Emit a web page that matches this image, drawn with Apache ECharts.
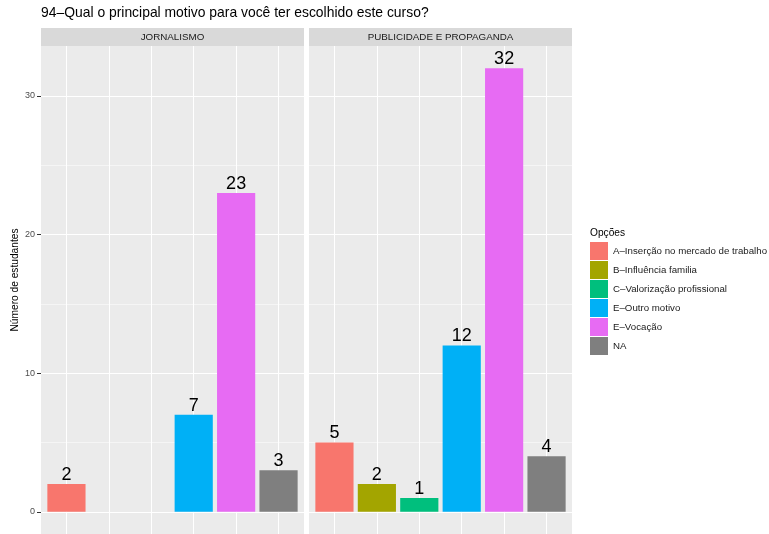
<!DOCTYPE html>
<html>
<head>
<meta charset="utf-8">
<script src="https://cdn.jsdelivr.net/npm/echarts@6/dist/echarts.min.js"></script>
<style>html,body{margin:0;padding:0;background:#fff}#c{width:769px;height:534px}</style>
</head>
<body>
<div id="c"></div>
<script>
const chartTitle = '94–Qual o principal motivo para você ter escolhido este curso?';
const categories = ['A–Inserção no mercado de trabalho', 'B–Influência familia', 'C–Valorização profissional', 'E–Outro motivo', 'E–Vocação', 'NA'];
const catPositions = [1, 2, 3, 4, 5, 6];
const panels = ['JORNALISMO', 'PUBLICIDADE E PROPAGANDA'];
const jornalismo = [2, null, null, 7, 23, 3];
const publicidade = [5, 2, 1, 12, 32, 4];
const panelValues = [jornalismo, publicidade];
const yTicks = [0, 10, 20, 30];
const yMinor = [5, 15, 25];
const yTitle = 'Número de estudantes';
const legendTitle = 'Opções';
const colors = ['#F8766D', '#A3A500', '#00BF7D', '#00B0F6', '#E76BF3', '#7F7F7F'];

const FONT = '"Liberation Sans", Arial, sans-serif';
const panelLeft = [41, 309];
const panelWidth = 263;
const panelTop = 46;
const panelHeight = 490;

const grids = panels.map((p, i) => ({
  left: panelLeft[i], top: panelTop, width: panelWidth, height: panelHeight,
  show: true, backgroundColor: '#EBEBEB', borderWidth: 0, containLabel: false
}));

const xAxes = panels.map((p, i) => ({
  type: 'value', gridIndex: i, min: 0.4, max: 6.6,
  axisLine: {show: false},
  axisTick: {show: false, customValues: catPositions},
  axisLabel: {show: false, customValues: catPositions},
  splitLine: {show: true, lineStyle: {color: '#FFFFFF', width: 1}}
}));

const yAxes = panels.map((p, i) => ({
  type: 'value', gridIndex: i, min: -1.6, max: 33.6,
  axisLine: {show: false},
  axisTick: {show: i === 0, customValues: yTicks, length: 4, lineStyle: {color: '#333333', width: 1}},
  axisLabel: {show: i === 0, customValues: yTicks, margin: 6, fontSize: 9, color: '#4D4D4D', fontFamily: FONT},
  splitLine: {show: true, lineStyle: {color: '#FFFFFF', width: 1}}
}));

const series = [];
panels.forEach((p, pi) => {
  series.push({
    type: 'line', xAxisIndex: pi, yAxisIndex: pi, data: [], silent: true, z: 0,
    markLine: {
      silent: true, symbol: 'none', z: 0, animation: false,
      label: {show: false},
      lineStyle: {color: '#FFFFFF', width: 0.5, type: 'solid'},
      data: yMinor.map(v => ({yAxis: v}))
    }
  });
  categories.forEach((c, ci) => {
    const v = panelValues[pi][ci];
    series.push({
      type: 'bar', name: c, xAxisIndex: pi, yAxisIndex: pi,
      barWidth: '90%', barGap: '-100%', z: 2,
      itemStyle: {color: colors[ci]},
      label: {show: true, position: 'top', distance: 0, fontSize: 18, color: '#000000', fontFamily: FONT},
      data: v == null ? [] : [[catPositions[ci], v]]
    });
  });
});

const graphics = [];
panels.forEach((p, i) => {
  graphics.push({type: 'rect', left: panelLeft[i], top: 28, shape: {width: panelWidth, height: 18}, style: {fill: '#D9D9D9'}, silent: true});
  graphics.push({type: 'text', x: panelLeft[i] + panelWidth / 2, y: 37, style: {text: p, fill: '#1A1A1A', font: '9.8px ' + FONT, textAlign: 'center', textVerticalAlign: 'middle'}, silent: true});
});
graphics.push({type: 'text', x: 590, y: 233, style: {text: legendTitle, fill: '#000000', font: '10.2px ' + FONT, textAlign: 'left', textVerticalAlign: 'middle'}, silent: true});
graphics.push({type: 'text', x: 15.5, y: 280, rotation: Math.PI / 2, style: {text: yTitle, fill: '#000000', font: '10.2px ' + FONT, textAlign: 'center', textVerticalAlign: 'middle'}, silent: true});

const chart = echarts.init(document.getElementById('c'), null, {renderer: 'canvas'});
chart.setOption({
  animation: false,
  backgroundColor: '#FFFFFF',
  title: {text: chartTitle, left: 41, top: 6, padding: 0, textStyle: {fontSize: 13.9, fontWeight: 'normal', color: '#000000', fontFamily: FONT}},
  grid: grids,
  xAxis: xAxes,
  yAxis: yAxes,
  legend: {
    data: categories, orient: 'vertical', left: 590, top: 242, padding: 0,
    itemWidth: 18, itemHeight: 18, itemGap: 1, icon: 'rect',
    textStyle: {fontSize: 9.7, color: '#1A1A1A', fontFamily: FONT}
  },
  graphic: graphics,
  series: series
});
</script>
</body>
</html>
